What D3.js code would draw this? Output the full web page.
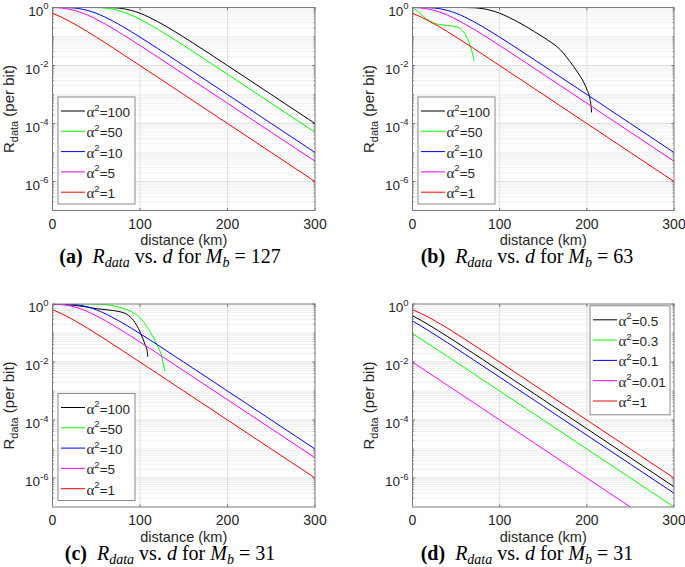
<!DOCTYPE html>
<html><head><meta charset="utf-8">
<script src="https://cdn.jsdelivr.net/npm/d3@7"></script>
<style>body{margin:0;background:#fff}text{white-space:pre}</style>
</head><body><svg id="c" width="685" height="567"></svg>
<script>
// ---------------- data ----------------
const distGrid = [0,10,20,30,40,50,60,70,80,90,100,110,120,130,140,150,160,200,250,300];
const alpha100 = [1,1,1,1,1,0.99995,0.9982,0.9813,0.9189,0.795,0.6321,0.4679,0.3284,0.2222,0.1466,0.0952,0.0612,0.00995,1.0e-3,1.0e-4];
const alpha50  = [1,1,1,1,0.9996,0.9933,0.9574,0.8634,0.7152,0.5473,0.3935,0.2706,0.1805,0.118,0.0762,0.0488,0.0311,0.00499,5.0e-4,5.0e-5];
const alpha10  = [0.99995,0.9982,0.9813,0.9189,0.795,0.6321,0.4679,0.3284,0.2222,0.1466,0.0952,0.0612,0.039,0.0248,0.0157,0.00995,0.00629,1.0e-3,1.0e-4,1.0e-5];
const alpha5   = [0.9933,0.9574,0.8634,0.7152,0.5473,0.3935,0.2706,0.1805,0.118,0.0762,0.0488,0.0311,0.0197,0.0125,0.00789,0.00499,0.00315,5.0e-4,5.0e-5,5.0e-6];
const alpha1   = [0.6321,0.4679,0.3284,0.2222,0.1466,0.0952,0.0612,0.039,0.0248,0.0157,0.00995,0.00629,0.00397,0.00251,0.00158,1.0e-3,6.3e-4,1.0e-4,1.0e-5,1.0e-6];

// panel (b), Mb = 63
const distB100 = [0,60,70,80,90,100,110,120,130,140,150,160,170,180,190,195,200,203.5,205,205.4];
const rateB100 = [1,0.9982,0.9813,0.9189,0.795,0.6321,0.4679,0.3284,0.2222,0.1466,0.0952,0.06,0.0339,0.0145,0.0055,0.00316,0.00151,7.2e-4,3.5e-4,2.4e-4];
const distB50  = [0,5,10,15,20,25,30,35,40,45,50,55,60,63,66,68,69.5,70.5];
const rateB50  = [1,0.79,0.575,0.427,0.339,0.288,0.26,0.248,0.24,0.232,0.219,0.186,0.126,0.085,0.05,0.0316,0.0209,0.0145];

// panel (c), Mb = 31
const distC100 = [0,10,20,30,40,50,60,70,77,85,92.6,98.3,103.2,106,108,109];
const rateC100 = [1,0.98,0.93,0.862,0.78,0.69,0.64,0.59,0.54,0.44,0.27,0.141,0.0646,0.038,0.0257,0.0151];
const distC50  = [0,10,20,30,40,50,60,70,80,90,98,104,108,112,117,121,125,127,128.4];
const rateC50  = [1,1,1,1,0.9996,0.9933,0.9574,0.8634,0.7152,0.5473,0.38,0.245,0.16,0.105,0.0537,0.0316,0.0148,0.0074,0.0049];

// panel (d), small alpha
const rateD_black   = [0.3935,0.2706,0.1805,0.118,0.0762,0.0488,0.0311,0.0197,0.0125,0.00789,0.00499,0.00315,0.00199,1.26e-3,7.9e-4,5.0e-4,3.15e-4,5.0e-5,5.0e-6,5.0e-7];
const rateD_green   = [0.0952,0.0612,0.039,0.0248,0.0157,0.00995,0.00629,0.00397,0.00251,0.00158,1.0e-3,6.3e-4,3.98e-4,2.51e-4,1.58e-4,1.0e-4,6.3e-5,1.0e-5,1.0e-6,1.0e-7];
const rateD_blue    = [0.2592,0.1725,0.1126,0.0726,0.0464,0.0296,0.0188,0.0119,0.0075,0.00474,0.003,0.00189,0.00119,7.5e-4,4.75e-4,3.0e-4,1.89e-4,3.0e-5,3.0e-6,3.0e-7];
const rateD_magenta = [0.00995,0.00629,0.00397,0.00251,0.00158,1.0e-3,6.3e-4,3.98e-4,2.51e-4,1.58e-4,1.0e-4,6.3e-5,3.98e-5,2.51e-5,1.58e-5,1.0e-5,6.3e-6,1.0e-6,1.0e-7,1.0e-8];

const xTicks = [0,100,200,300];
const yTickExps = [0,-2,-4,-6];
const legendABC = ["100","50","10","5","1"];
const legendD = ["0.5","0.3","0.1","0.01","1"];
const seriesColors = ["#000000","#00ff00","#0000ff","#ff00ff","#ff0000"];
const panelTags = ["(a)","(b)","(c)","(d)"];
const panelMb = ["127","63","31","31"];

// ---------------- layout ----------------
const panels = [
  {x0:52.5, y0:7.5, w:262.5, h:203, capX:170, legend:"left",
   series:[[distGrid,alpha100],[distGrid,alpha50],[distGrid,alpha10],[distGrid,alpha5],[distGrid,alpha1]], labels:legendABC},
  {x0:412.5, y0:7.5, w:261.5, h:203, capX:527, legend:"left",
   series:[[distB100,rateB100],[distB50,rateB50],[distGrid,alpha10],[distGrid,alpha5],[distGrid,alpha1]], labels:legendABC},
  {x0:52.5, y0:304, w:262.5, h:203, capX:170, legend:"left",
   series:[[distC100,rateC100],[distC50,rateC50],[distGrid,alpha10],[distGrid,alpha5],[distGrid,alpha1]], labels:legendABC},
  {x0:412.5, y0:304, w:261.5, h:203, capX:527, legend:"right",
   series:[[distGrid,rateD_black],[distGrid,rateD_green],[distGrid,rateD_blue],[distGrid,rateD_magenta],[distGrid,alpha1]], labels:legendD}
];

const svg = d3.select("#c");
svg.append("rect").attr("width",685).attr("height",567).attr("fill","#fff");
const SANS = "'Liberation Sans', Arial, Helvetica, sans-serif";
const SERIF = "'Liberation Serif', 'Times New Roman', serif";

panels.forEach((p, i) => {
  const x = d3.scaleLinear().domain([0,300]).range([p.x0, p.x0 + p.w]);
  const y = d3.scaleLog().domain([1e-7,1]).range([p.y0 + p.h, p.y0]);
  const g = svg.append("g");

  // grid
  const minorVals = [];
  for (let k = -7; k < 0; k++) for (let m = 1; m <= 9; m++) {
    const v = m * Math.pow(10, k);
    if (v > 1e-7 && v < 1 && !(m === 1 && yTickExps.includes(k))) minorVals.push(v);
  }
  g.selectAll(".mg").data(minorVals).enter().append("line")
    .attr("x1", p.x0).attr("x2", p.x0 + p.w)
    .attr("y1", d => y(d)).attr("y2", d => y(d))
    .attr("stroke", "#d9d9d9").attr("stroke-width", 0.8).attr("stroke-dasharray", "1,1");
  g.selectAll(".gy").data(yTickExps.filter(e => e > -7 && e < 0)).enter().append("line")
    .attr("x1", p.x0).attr("x2", p.x0 + p.w)
    .attr("y1", d => y(Math.pow(10, d))).attr("y2", d => y(Math.pow(10, d)))
    .attr("stroke", "#e0e0e0").attr("stroke-width", 1);
  g.selectAll(".gx").data(xTicks.filter(t => t > 0 && t < 300)).enter().append("line")
    .attr("x1", d => x(d)).attr("x2", d => x(d))
    .attr("y1", p.y0).attr("y2", p.y0 + p.h)
    .attr("stroke", "#e0e0e0").attr("stroke-width", 1);

  // ticks (inside, mirrored)
  const tk = g.append("g").attr("stroke", "#555").attr("stroke-width", 0.8);
  xTicks.forEach(t => {
    tk.append("line").attr("x1", x(t)).attr("x2", x(t)).attr("y1", p.y0 + p.h).attr("y2", p.y0 + p.h - 2.6);
    tk.append("line").attr("x1", x(t)).attr("x2", x(t)).attr("y1", p.y0).attr("y2", p.y0 + 2.6);
  });
  yTickExps.forEach(e => {
    const yy = y(Math.pow(10, e));
    tk.append("line").attr("x1", p.x0).attr("x2", p.x0 + 2.6).attr("y1", yy).attr("y2", yy);
    tk.append("line").attr("x1", p.x0 + p.w).attr("x2", p.x0 + p.w - 2.6).attr("y1", yy).attr("y2", yy);
  });
  minorVals.forEach(v => {
    const yy = y(v);
    tk.append("line").attr("x1", p.x0).attr("x2", p.x0 + 1.5).attr("y1", yy).attr("y2", yy).attr("stroke-width", 0.6);
    tk.append("line").attr("x1", p.x0 + p.w).attr("x2", p.x0 + p.w - 1.5).attr("y1", yy).attr("y2", yy).attr("stroke-width", 0.6);
  });

  // curves
  const clipId = "clip" + i;
  svg.append("clipPath").attr("id", clipId).append("rect")
    .attr("x", p.x0).attr("y", p.y0).attr("width", p.w).attr("height", p.h);
  const line = d3.line().x(d => x(d[0])).y(d => y(d[1])).curve(d3.curveMonotoneX);
  const cg = g.append("g").attr("clip-path", `url(#${clipId})`);
  p.series.forEach((s, j) => {
    const pts = s[0].map((dx, k) => [dx, s[1][k]]);
    cg.append("path").attr("d", line(pts)).attr("fill", "none")
      .attr("stroke", seriesColors[j]).attr("stroke-width", 1);
  });

  // box
  g.append("rect").attr("x", p.x0).attr("y", p.y0).attr("width", p.w).attr("height", p.h)
    .attr("fill", "none").attr("stroke", "#7a7a7a").attr("stroke-width", 1);

  // x tick labels
  g.selectAll(".xl").data(xTicks).enter().append("text")
    .attr("x", d => x(d)).attr("y", p.y0 + p.h + 18)
    .attr("text-anchor", "middle").attr("font-family", SANS).attr("font-size", 14)
    .attr("fill", "#262626").text(d => d);
  // y tick labels
  yTickExps.forEach(e => {
    const t = g.append("text").attr("x", p.x0 - 4).attr("y", y(Math.pow(10, e)) + 8)
      .attr("text-anchor", "end").attr("font-family", SANS).attr("fill", "#262626");
    t.append("tspan").attr("font-size", 13.5).text("10");
    t.append("tspan").attr("font-size", 9.5).attr("dy", -6.5).text(String(e));
  });

  // axis labels
  g.append("text").attr("x", p.x0 + p.w / 2).attr("y", p.y0 + p.h + 34.5)
    .attr("text-anchor", "middle").attr("font-family", SANS).attr("font-size", 14.5)
    .attr("fill", "#262626").text("distance (km)");
  const yl = g.append("text").attr("transform", `translate(${p.x0 - 38.5},${p.y0 + p.h / 2}) rotate(-90)`)
    .attr("text-anchor", "middle").attr("font-family", SANS).attr("fill", "#262626");
  yl.append("tspan").attr("font-size", 15).text("R");
  yl.append("tspan").attr("font-size", 11).attr("dy", 4).text("data");
  yl.append("tspan").attr("font-size", 15).attr("dy", -4).text(" (per bit)");

  // legend
  const lw = p.legend === "left" ? 77 : 80, lh = p.legend === "left" ? 107 : 109;
  const lx = p.legend === "left" ? p.x0 + 5.5 : p.x0 + p.w - 4 - lw;
  const ly = p.legend === "left" ? p.y0 + 89.5 : p.y0 + 1.8;
  const lg = g.append("g");
  lg.append("rect").attr("x", lx).attr("y", ly).attr("width", lw).attr("height", lh)
    .attr("fill", "#fff").attr("stroke", "#8a8a8a").attr("stroke-width", 1);
  p.labels.forEach((lab, j) => {
    const cy = ly + 14 + j * 20.3;
    lg.append("line").attr("x1", lx + 3).attr("x2", lx + 27).attr("y1", cy).attr("y2", cy)
      .attr("stroke", seriesColors[j]).attr("stroke-width", 1);
    const t = lg.append("text").attr("x", lx + 28.5).attr("y", cy + 6).attr("fill", "#262626");
    t.append("tspan").attr("font-family", SERIF).attr("font-size", 15).text("\u03B1");
    t.append("tspan").attr("font-family", SANS).attr("font-size", 9.5).attr("dy", -6.5).text("2");
    t.append("tspan").attr("font-family", SANS).attr("font-size", 13.5).attr("dy", 6.5).text("=" + lab);
  });

  // caption
  const cap = g.append("text").attr("x", p.capX).attr("y", p.y0 + p.h + 52.5)
    .attr("text-anchor", "middle").attr("font-family", SERIF).attr("font-size", 20).attr("fill", "#000");
  cap.append("tspan").attr("font-weight", "bold").text(panelTags[i]);
  cap.append("tspan").text("  ");
  cap.append("tspan").attr("font-style", "italic").text("R");
  cap.append("tspan").attr("font-style", "italic").attr("font-size", 14).attr("dy", 4).text("data");
  cap.append("tspan").attr("dy", -4).text(" vs. ");
  cap.append("tspan").attr("font-style", "italic").text("d");
  cap.append("tspan").text(" for ");
  cap.append("tspan").attr("font-style", "italic").text("M");
  cap.append("tspan").attr("font-style", "italic").attr("font-size", 14).attr("dy", 4).text("b");
  cap.append("tspan").attr("dy", -4).text(" = " + panelMb[i]);
});
</script></body></html>
